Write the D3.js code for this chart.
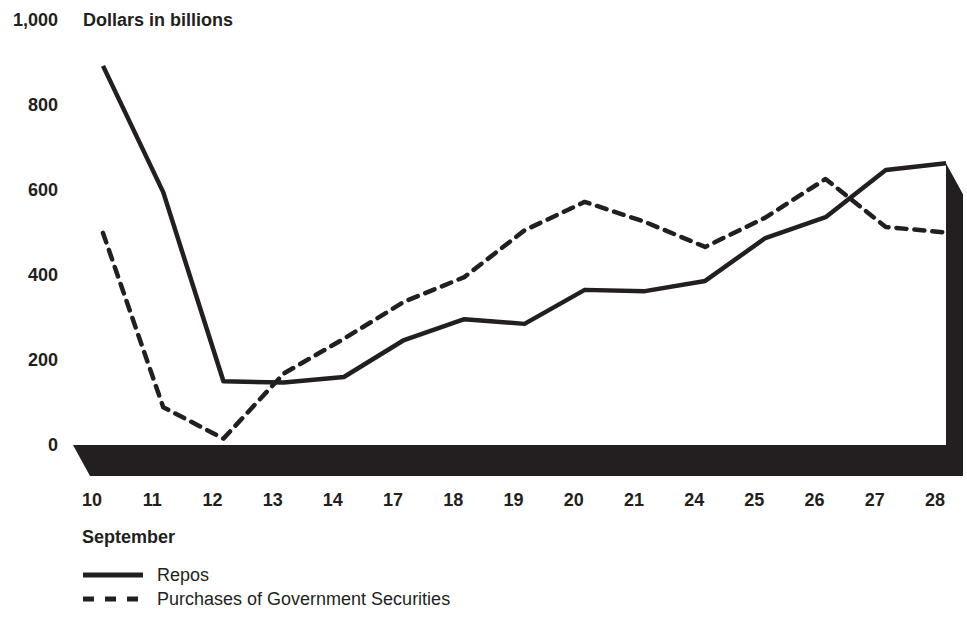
<!DOCTYPE html>
<meta charset="utf-8">
<script src="https://d3js.org/d3.v7.min.js"></script>
<style>
    body { margin: 0; background: #fff; }
    .tick-label { font-family: 'Liberation Sans', Arial, sans-serif; font-size: 18px; font-weight: bold; fill: #231f20; }
    .legend-label { font-family: 'Liberation Sans', Arial, sans-serif; font-size: 18px; fill: #231f20; }
</style>
<div id="chart"></div>
<script>
    // September days and values (dollars in billions)
    const days = ["10", "11", "12", "13", "14", "17", "18", "19", "20", "21", "24", "25", "26", "27", "28"];
    const repos = [892, 595, 150, 147, 160, 247, 296, 285, 365, 362, 386, 487, 536, 647, 663];
    const purchases = [499, 89, 15, 168, 250, 337, 395, 505, 572, 525, 466, 535, 626, 513, 500];
    const yTicks = [0, 200, 400, 600, 800, 1000];

    const ink = "#231f20";
    const width = 967, height = 620;

    let svg = d3.select("#chart")
        .append("svg")
        .attr("width", width)
        .attr("height", height);

    let x = d3.scalePoint()
        .domain(days)
        .range([103, 946]);

    let y = d3.scaleLinear()
        .domain([0, 1000])
        .range([445, 20]);

    // 3D floor + right wall
    let depthX = 17, depthY = 31;
    let x0 = x(days[0]) - 30, x1 = x(days[days.length - 1]);
    let wallTop = y(repos[repos.length - 1]);
    svg.append("path")
        .attr("d", [
            "M", x0, y(0),
            "L", x1, y(0),
            "L", x1, wallTop,
            "L", x1 + depthX, wallTop + depthY,
            "L", x1 + depthX, y(0) + depthY,
            "L", x0 + depthX, y(0) + depthY,
            "Z"].join(" "))
        .style("fill", ink);

    // y axis labels
    svg.selectAll(".ylab")
        .data(yTicks)
        .enter()
        .append("text")
        .attr("class", "tick-label")
        .attr("x", 58)
        .attr("y", d => y(d))
        .attr("dy", "0.35em")
        .attr("text-anchor", "end")
        .text(d => d3.format(",")(d));

    svg.append("text")
        .attr("class", "tick-label")
        .attr("x", 83)
        .attr("y", y(1000))
        .attr("dy", "0.35em")
        .text("Dollars in billions");

    // x axis labels
    svg.selectAll(".xlab")
        .data(days)
        .enter()
        .append("text")
        .attr("class", "tick-label")
        .attr("x", d => x(d) - 11)
        .attr("y", 500)
        .attr("dy", "0.35em")
        .attr("text-anchor", "middle")
        .text(d => d);

    svg.append("text")
        .attr("class", "tick-label")
        .attr("x", 82)
        .attr("y", 537)
        .attr("dy", "0.35em")
        .text("September");

    let line = d3.line()
        .x((d, i) => x(days[i]))
        .y(d => y(d));

    svg.append("path")
        .datum(purchases)
        .attr("d", line)
        .style("fill", "none")
        .style("stroke", ink)
        .style("stroke-width", 4.5)
        .style("stroke-dasharray", "10,8")
        .style("stroke-linecap", "round")
        .style("stroke-linejoin", "round");

    svg.append("path")
        .datum(repos)
        .attr("d", line)
        .style("fill", "none")
        .style("stroke", ink)
        .style("stroke-width", 4.5)
        .style("stroke-linejoin", "round");

    // legend
    let legend = [
        {name: "Repos", dash: null},
        {name: "Purchases of Government Securities", dash: "11,11"}
    ];
    let lg = svg.selectAll(".legend")
        .data(legend)
        .enter()
        .append("g")
        .attr("transform", (d, i) => "translate(83," + (575 + i * 24) + ")");
    lg.append("line")
        .attr("x1", 0)
        .attr("x2", 60)
        .style("stroke", ink)
        .style("stroke-width", 5)
        .style("stroke-dasharray", d => d.dash);
    lg.append("text")
        .attr("class", "legend-label")
        .attr("x", 74)
        .attr("dy", "0.35em")
        .text(d => d.name);
</script>
